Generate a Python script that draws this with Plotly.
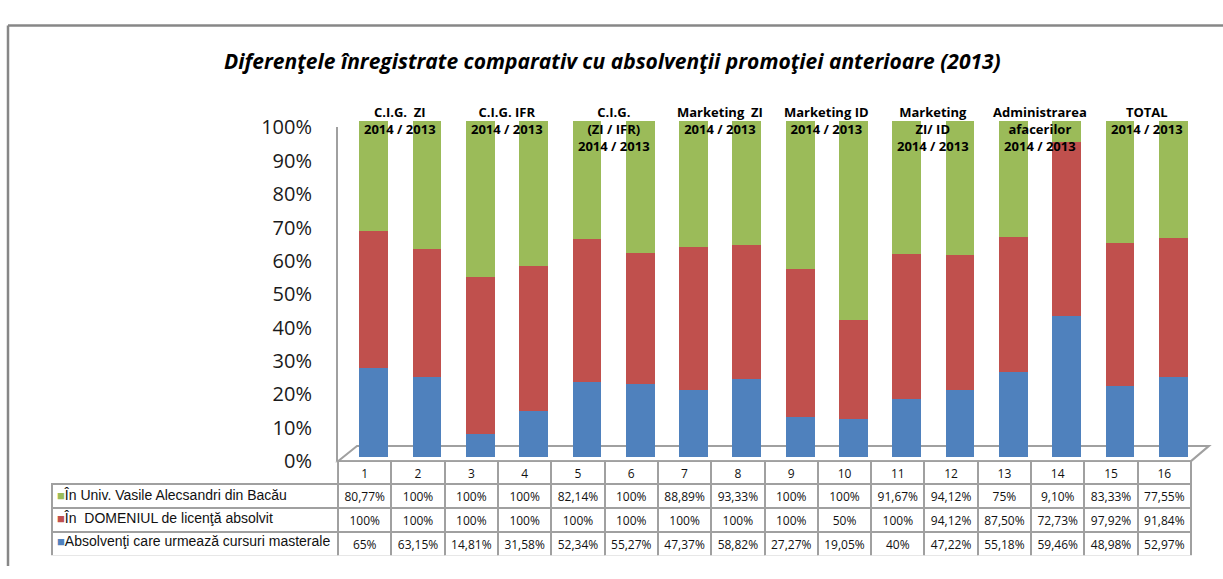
import plotly.graph_objects as go

# ---------------- data ----------------
categories = [str(i) for i in range(1, 17)]
univ_values = [80.77, 100, 100, 100, 82.14, 100, 88.89, 93.33, 100, 100, 91.67, 94.12, 75, 9.10, 83.33, 77.55]
domeniu_values = [100, 100, 100, 100, 100, 100, 100, 100, 100, 50, 100, 94.12, 87.50, 72.73, 97.92, 91.84]
master_values = [65, 63.15, 14.81, 31.58, 52.34, 55.27, 47.37, 58.82, 27.27, 19.05, 40, 47.22, 55.18, 59.46, 48.98, 52.97]

series_names = [
    "Absolvenţi care urmează cursuri masterale",
    "În  DOMENIUL de licenţă absolvit",
    "În Univ. Vasile Alecsandri din Bacău",
]
group_labels = [
    "C.I.G.  ZI<br>2014 / 2013",
    "C.I.G. IFR<br>2014 / 2013",
    "C.I.G.<br>(ZI / IFR)<br>2014 / 2013",
    "Marketing  ZI<br>2014 / 2013",
    "Marketing ID<br>2014 / 2013",
    "Marketing<br>ZI/ ID<br>2014 / 2013",
    "Administrarea<br>afacerilor<br>2014 / 2013",
    "TOTAL<br>2014 / 2013",
]
title_text = "Diferenţele înregistrate comparativ cu absolvenţii promoţiei anterioare (2013)"
y_ticks = list(range(0, 101, 10))

# ---------------- styling ----------------
W, H = 1223, 579
BLUE, RED, GREEN = "#4F81BD", "#C0504D", "#9BBB59"
GRAY = "#A0A0A0"


def px(x):
    return x / W


def py(y):
    return 1 - y / H


def fmt(v):
    if float(v).is_integer():
        return f"{int(v)}%"
    return f"{v:.2f}".replace(".", ",") + "%"


xs = list(range(len(categories)))
fig = go.Figure()
for vals, name, col in [(master_values, series_names[0], BLUE),
                        (domeniu_values, series_names[1], RED),
                        (univ_values, series_names[2], GREEN)]:
    fig.add_trace(go.Bar(x=xs, y=vals, name=name, marker=dict(color=col, line=dict(width=0)),
                         width=0.54, hoverinfo="skip"))

# helper axis for the tick labels
fig.add_trace(go.Scatter(x=[0], y=[0], xaxis="x2", yaxis="y2", mode="markers",
                         marker=dict(opacity=0), hoverinfo="skip", showlegend=False))

# data table
TABLE_TOP, HEAD_H, ROW_H = 469, 23, 24
header_vals = [""] + categories
cell_cols = [["", "", ""]] + [[fmt(u), fmt(d), fmt(m)] for u, d, m in zip(univ_values, domeniu_values, master_values)]
fig.add_trace(go.Table(
    domain=dict(x=[px(52), px(1191)], y=[py(TABLE_TOP + HEAD_H + 3 * ROW_H + 4), py(TABLE_TOP)]),
    columnwidth=[286] + [53.3] * 16,
    header=dict(values=header_vals, height=HEAD_H, align="center",
                fill=dict(color=["rgba(0,0,0,0)"] + ["white"] * 16),
                line=dict(color=["rgba(0,0,0,0)"] + [GRAY] * 16, width=2),
                font=dict(family="Open Sans", size=12, color="#111")),
    cells=dict(values=cell_cols, height=ROW_H, align="center",
               fill=dict(color="white"),
               line=dict(color=GRAY, width=2),
               font=dict(family="Open Sans", size=12, color="#111")),
))

# row labels of the data table (legend keys)
row_labels = [(series_names[2], GREEN), (series_names[1], RED), (series_names[0], BLUE)]
for i, (lab, col) in enumerate(row_labels):
    yc = TABLE_TOP + HEAD_H + ROW_H * i + ROW_H / 2 + 1
    fig.add_annotation(text=f'<span style="color:{col};font-size:13px">■</span>{lab}',
                       x=px(55), y=py(yc), xref="paper", yref="paper",
                       xanchor="left", yanchor="middle", showarrow=False,
                       font=dict(family="Liberation Sans", size=14, color="#111"))

fig.update_layout(
    width=W, height=H,
    margin=dict(l=0, r=0, t=0, b=0),
    paper_bgcolor="white", plot_bgcolor="rgba(0,0,0,0)",
    barmode="stack", barnorm="percent",
    showlegend=False,
    xaxis=dict(domain=[px(347), px(1200)], range=[-0.5, 15.5], visible=False),
    yaxis=dict(domain=[py(465), py(112)], range=[0, 100], visible=False),
    xaxis2=dict(domain=[px(338), px(1191)], range=[0, 1], visible=False, anchor="y2"),
    yaxis2=dict(domain=[py(469), py(119)], range=[0, 100], anchor="x2",
                tickvals=y_ticks, ticktext=[f"{t}%" for t in y_ticks],
                ticks="", ticklabelstandoff=20, showgrid=False, zeroline=False,
                showline=True, linecolor=GRAY, linewidth=2,
                tickfont=dict(family="Open Sans", size=20, color="#1a1a1a")),
    font=dict(family="Open Sans"),
)

# title
fig.add_annotation(text=f"<b><i>{title_text}</i></b>", x=px(612), y=py(32), xref="paper", yref="paper",
                   showarrow=False, font=dict(family="Open Sans", size=21, color="black"))

# group labels above pairs of bars
for k, lab in enumerate(group_labels):
    fig.add_annotation(text=f"<b>{lab}</b>", x=2 * k + 0.5, xref="x", y=py(91), yref="paper",
                       yanchor="top", showarrow=False,
                       font=dict(family="Open Sans", size=13, color="black"))

# floor, frame lines
floor = f"M {px(338)},{py(469)} L {px(1191)},{py(469)} L {px(1209)},{py(453)} L {px(357)},{py(453)} Z"
fig.add_shape(type="path", path=floor, xref="paper", yref="paper", layer="below",
              line=dict(color=GRAY, width=2), fillcolor="white")
fig.add_shape(type="line", x0=px(8), x1=1.0, y0=py(12), y1=py(12), xref="paper", yref="paper",
              line=dict(color="#878787", width=2.5))
fig.add_shape(type="line", x0=px(8), x1=px(8), y0=py(12), y1=0, xref="paper", yref="paper",
              line=dict(color="#878787", width=2.5))

fig.write_html("out.html", config={"displayModeBar": False},
               post_script="document.body.style.margin='0';document.body.style.overflow='hidden';")
